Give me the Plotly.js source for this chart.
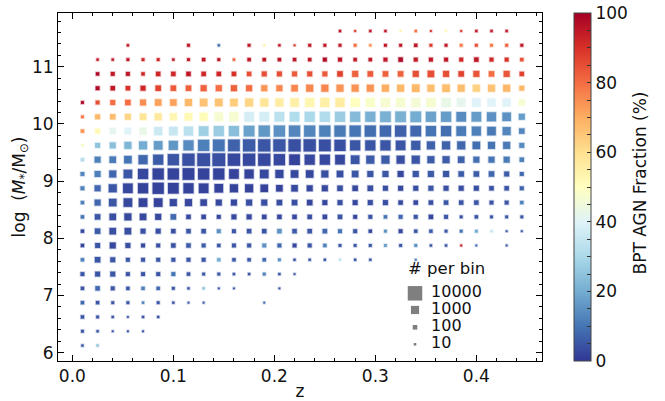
<!DOCTYPE html>
<html><head><meta charset="utf-8">
<script src="https://cdn.plot.ly/plotly-3.0.1.min.js"></script>
<style>body{margin:0;padding:0;background:#fff}#chart{width:665px;height:401px}</style>
</head><body><div id="chart"></div>
<script>
const _ = null;
const zCenters = [0.010,0.025,0.040,0.055,0.070,0.085,0.100,0.115,0.130,0.145,0.160,0.175,0.190,0.205,0.220,0.235,0.250,0.265,0.280,0.295,0.310,0.325,0.340,0.355,0.370,0.385,0.400,0.415,0.430,0.445];
const massCenters = [6.125,6.375,6.625,6.875,7.125,7.375,7.625,7.875,8.125,8.375,8.625,8.875,9.125,9.375,9.625,9.875,10.125,10.375,10.625,10.875,11.125,11.375,11.625];
// number of galaxies per bin (rows = mass bins from low to high, columns = z bins)
const binCounts = [
 [10,10,_,_,_,_,_,_,_,_,_,_,_,_,_,_,_,_,_,_,_,_,_,_,_,_,_,_,_,_],
 [21,10,4,4,4,_,_,_,_,_,_,_,_,_,_,_,_,_,_,_,_,_,_,_,_,_,_,_,_,_],
 [39,21,10,4,10,10,_,_,_,_,_,_,_,_,_,_,_,_,_,_,_,_,_,_,_,_,_,_,_,_],
 [39,39,21,21,10,21,10,4,4,_,_,_,4,_,_,_,_,_,_,_,_,_,_,_,_,_,_,_,_,_],
 [39,107,67,39,39,39,21,10,10,4,4,_,_,4,_,_,_,_,_,_,_,_,_,_,_,_,_,_,_,_],
 [67,163,163,67,67,67,67,39,21,21,10,10,21,10,4,_,_,_,_,_,_,_,_,_,_,_,_,_,_,_],
 [39,238,163,67,67,67,67,67,67,39,39,39,39,21,10,10,10,10,10,10,_,_,4,_,_,_,_,_,_,_],
 [39,163,337,163,67,67,107,107,67,39,67,67,67,67,67,67,39,21,21,21,21,21,21,10,10,4,4,_,4,_],
 [39,238,465,465,163,163,107,107,107,67,67,107,107,107,107,107,107,67,67,39,21,67,39,39,21,21,21,10,4,4],
 [39,238,465,625,465,337,238,107,107,67,163,163,107,107,107,107,107,107,67,67,39,67,67,107,67,21,39,21,21,21],
 [39,337,824,1359,1359,1359,625,625,465,337,337,337,337,238,238,238,163,163,163,163,163,107,107,107,107,107,107,67,67,39],
 [67,337,1066,2120,2603,3811,3164,2603,2120,1359,1066,1066,824,465,465,337,337,238,238,238,163,163,163,163,163,163,163,107,107,67],
 [67,337,625,1359,2603,3811,3811,4553,3811,3811,2120,1708,1359,1066,824,824,625,465,465,337,337,337,337,337,337,238,238,238,163,67],
 [39,337,465,824,1708,2603,3811,5398,6356,6356,5398,5398,5398,3811,3164,2603,2603,2120,1359,1066,1066,1066,1066,625,625,465,337,337,337,107],
 [21,163,337,625,1066,1359,1708,2603,3811,4553,4553,5398,5398,5398,5398,5398,4553,3811,2603,2603,2603,2120,1708,1066,1066,1066,824,625,625,163],
 [39,163,337,465,625,1066,1359,1708,2120,2603,2603,3164,3811,3811,3811,3811,3811,3811,3811,3811,3811,3811,3164,2603,2603,2120,1708,1359,1066,238],
 [21,163,238,337,465,625,625,824,1066,1359,1708,2120,2120,2120,2120,2603,2603,2603,2603,2603,3164,3164,3164,2603,2603,2120,2120,1708,1359,337],
 [21,67,163,238,337,465,465,625,824,824,824,1066,1066,1066,1359,1708,1708,1708,1708,1708,1708,1708,1708,1708,1708,1359,1359,1066,1066,337],
 [_,67,107,107,163,238,238,238,337,337,337,337,337,337,465,625,625,625,625,625,625,625,824,625,824,625,625,625,625,163],
 [_,39,67,67,39,107,107,107,107,107,107,107,163,163,163,163,163,238,337,238,238,238,337,465,337,238,337,238,337,107],
 [_,10,10,21,21,21,10,21,39,21,10,39,39,39,39,39,67,67,39,39,67,107,67,67,67,67,107,67,67,39],
 [_,_,_,10,_,_,_,21,_,10,_,21,4,10,4,21,21,21,21,10,21,21,39,21,21,21,21,21,21,21],
 [_,_,_,_,_,_,_,_,_,_,_,_,_,_,_,_,_,10,4,10,10,4,10,4,4,4,10,10,10,_]
];
// BPT AGN fraction per bin (%)
const agnFraction = [
 [5,25,_,_,_,_,_,_,_,_,_,_,_,_,_,_,_,_,_,_,_,_,_,_,_,_,_,_,_,_],
 [5,5,5,5,5,_,_,_,_,_,_,_,_,_,_,_,_,_,_,_,_,_,_,_,_,_,_,_,_,_],
 [5,5,5,5,5,5,_,_,_,_,_,_,_,_,_,_,_,_,_,_,_,_,_,_,_,_,_,_,_,_],
 [8,5,5,5,12,5,5,5,5,_,_,_,8,_,_,_,_,_,_,_,_,_,_,_,_,_,_,_,_,_],
 [5,8,5,5,12,8,5,5,25,5,5,_,_,5,_,_,_,_,_,_,_,_,_,_,_,_,_,_,_,_],
 [5,5,5,5,5,5,10,5,5,5,5,5,12,5,5,_,_,_,_,_,_,_,_,_,_,_,_,_,_,_],
 [12,5,5,5,5,5,5,5,5,20,5,5,8,15,5,5,5,35,5,5,_,_,10,_,_,_,_,_,_,_],
 [3,5,3,4,3,4,4,6,6,5,5,5,15,8,3,5,12,5,5,5,18,5,15,5,5,95,8,_,5,_],
 [3,6,4,4,4,4,4,5,5,15,5,5,5,15,6,5,8,10,5,3,15,3,5,6,5,10,20,35,5,5],
 [10,5,4,3,3,3,8,3,3,3,3,3,3,3,3,4,3,5,3,5,10,8,5,3,5,4,5,5,5,5],
 [12,8,5,3,2,2,3,3,3,3,3,4,4,4,4,3,3,4,3,4,4,3,3,4,5,5,5,5,5,12],
 [12,8,5,3,2,2,2,2,2,2,2,2,2,2,3,3,3,4,3,4,4,3,4,5,4,4,4,4,5,7],
 [13,12,8,5,3,2,2,2,2,2,2,2,3,3,3,3,4,4,5,5,5,3,5,6,5,6,6,8,6,8],
 [32,12,11,10,8,6,5,4,4,4,3,3,3,3,2,3,3,3,5,6,6,4,5,6,6,7,9,10,11,12],
 [47,25,24,22,20,17,16,14,12,10,7,6,5,5,4,4,4,4,5,5,5,5,6,7,7,8,9,10,11,14],
 [74,52,42,40,43,36,35,33,28,27,24,18,16,15,13,13,12,11,10,9,8,7,8,10,9,11,12,11,13,13],
 [78,68,67,62,58,57,53,52,51,47,47,38,38,33,31,30,31,27,23,21,21,21,20,18,17,14,17,15,15,17],
 [98,85,80,80,75,72,72,68,66,66,64,62,58,56,55,53,55,56,50,48,47,47,46,47,43,42,40,40,40,47],
 [_,98,95,90,92,87,83,82,82,80,82,80,74,76,76,76,76,74,74,74,70,68,68,67,67,67,63,66,68,68],
 [_,98,95,95,92,92,92,95,92,92,90,85,85,85,83,85,83,87,82,83,82,82,85,85,85,87,84,80,84,87],
 [_,95,95,95,92,92,95,95,95,95,82,95,95,95,95,95,98,95,95,95,95,98,95,95,95,92,95,92,90,85],
 [_,_,_,95,_,_,_,95,_,10,_,95,55,95,90,95,95,95,80,75,95,95,95,88,95,78,85,78,82,95],
 [_,_,_,_,_,_,_,_,_,_,_,_,_,_,_,_,_,95,90,95,95,55,80,90,52,90,95,95,95,_]
];
const legendCounts = [10000, 1000, 100, 10];
const legendTitle = '# per bin';
const colorbarTitle = 'BPT AGN Fraction (%)';

const RdYlBu_r = [[0,'#313695'],[0.1,'#4575b4'],[0.2,'#74add1'],[0.3,'#abd9e9'],[0.4,'#e0f3f8'],[0.5,'#ffffbf'],[0.6,'#fee090'],[0.7,'#fdae61'],[0.8,'#f46d43'],[0.9,'#d73027'],[1,'#a50026']];
function sizeOf(n){ return 1.45*Math.pow(n,0.25); }

const xs=[], ys=[], ns=[], fs=[];
massCenters.forEach((m,j)=>zCenters.forEach((z,k)=>{
  const n=binCounts[j][k];
  if(n!==null){ xs.push(z); ys.push(m); ns.push(n); fs.push(agnFraction[j][k]); }
}));

const FONT='DejaVu Sans, sans-serif';
const halo = {type:'scatter',mode:'markers',x:xs,y:ys,hoverinfo:'skip',showlegend:false,
  marker:{symbol:'square',size:ns.map(n=>sizeOf(n)+1.4),color:fs,colorscale:RdYlBu_r,cmin:0,cmax:100,opacity:0.3,line:{width:0},showscale:false}};
const core = {type:'scatter',mode:'markers',x:xs,y:ys,showlegend:false,
  marker:{symbol:'square',size:ns.map(n=>sizeOf(n)-0.2),color:fs,colorscale:RdYlBu_r,cmin:0,cmax:100,opacity:1,line:{width:0},
    showscale:true,
    colorbar:{x:1.045,xanchor:'left',y:0.5,yanchor:'middle',len:1,lenmode:'fraction',thickness:17,xpad:10,ypad:0,
      outlinewidth:1,outlinecolor:'#444',ticks:'inside',ticklen:4,tickcolor:'#333',
      tickvals:[0,5,10,15,20,25,30,35,40,45,50,55,60,65,70,75,80,85,90,95,100],
      ticktext:['0',' ',' ',' ','20',' ',' ',' ','40',' ',' ',' ','60',' ',' ',' ','80',' ',' ',' ','100'],
      tickfont:{family:FONT,size:17,color:'#111'},
      title:{text:'',side:'right'}}}};
const legendY=[0.1945,0.1466,0.0968,0.048];
const legendMarks = {type:'scatter',mode:'markers',xaxis:'x2',yaxis:'y2',x:legendCounts.map(()=>0.7376),y:legendY,
  hoverinfo:'skip',showlegend:false,marker:{symbol:'square',size:legendCounts.map(sizeOf),color:'#7f7f7f',opacity:1,line:{width:0}}};
const legendText = {type:'scatter',mode:'text',xaxis:'x2',yaxis:'y2',x:legendCounts.map(()=>0.7707),y:legendY,
  text:legendCounts.map(String),textposition:'middle right',hoverinfo:'skip',showlegend:false,
  textfont:{family:FONT,size:16,color:'#111'}};

const annotations = [
  {xref:'paper',yref:'paper',x:0.72,y:0.266,xanchor:'left',yanchor:'middle',text:legendTitle,showarrow:false,font:{family:FONT,size:16.5,color:'#111'}},
  {xref:'paper',yref:'paper',x:1.2025,y:0.51,xanchor:'center',yanchor:'middle',textangle:-90,text:colorbarTitle,showarrow:false,font:{family:FONT,size:17,color:'#111'}}
];

const axCommon = {showline:true,linecolor:'#000',linewidth:1,mirror:'ticks',ticks:'inside',ticklen:6,tickwidth:1,tickcolor:'#000',
  showgrid:false,zeroline:false,tickfont:{family:FONT,size:17,color:'#111'}};
const layout = {
  width:665,height:401,margin:{l:58,r:123,t:13,b:40},paper_bgcolor:'#fff',plot_bgcolor:'#fff',
  font:{family:FONT,color:'#111'},showlegend:false,
  xaxis:Object.assign({},axCommon,{range:[-0.0142,0.465],tick0:0,dtick:0.1,tickformat:'.1f',
    minor:{dtick:0.02,ticks:'inside',ticklen:3,tickcolor:'#000',showgrid:false},
    title:{text:'z',font:{family:FONT,size:17,color:'#111'},standoff:4}}),
  yaxis:Object.assign({},axCommon,{range:[5.855,11.94],tick0:0,dtick:1,
    minor:{dtick:0.2,ticks:'inside',ticklen:3,tickcolor:'#000',showgrid:false},
    title:{text:'log  (<i>M</i><sub>*</sub>/M<sub>⊙</sub>)',font:{family:FONT,size:17,color:'#111'},standoff:2}}),
  xaxis2:{overlaying:'x',anchor:'y2',range:[0,1],visible:false,fixedrange:true},
  yaxis2:{overlaying:'y',anchor:'x2',range:[0,1],visible:false,fixedrange:true},
  annotations:annotations
};
Plotly.newPlot('chart',[halo,core,legendMarks,legendText],layout,{displayModeBar:false,staticPlot:true});
</script></body></html>
